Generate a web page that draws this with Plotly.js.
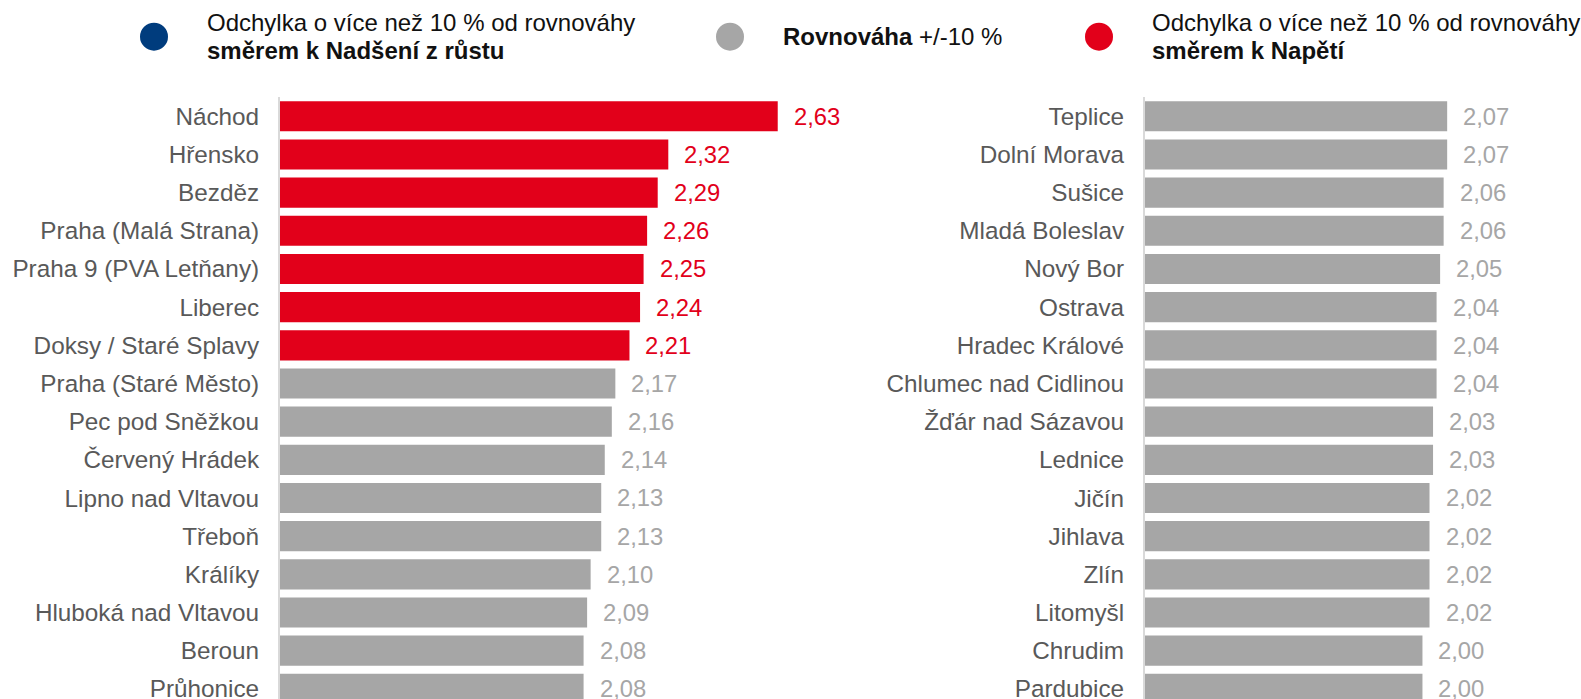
<!DOCTYPE html>
<html>
<head>
<meta charset="utf-8">
<script src="https://cdn.plot.ly/plotly-3.0.1.min.js"></script>
<style>
  html, body { margin: 0; padding: 0; background: #ffffff; }
  #chart { width: 1581px; height: 699px; }
</style>
</head>
<body>
<div id="chart"></div>
<script>
// ---------- DATA ----------
const leftCities = ["Náchod", "Hřensko", "Bezděz", "Praha (Malá Strana)", "Praha 9 (PVA Letňany)", "Liberec",
  "Doksy / Staré Splavy", "Praha (Staré Město)", "Pec pod Sněžkou", "Červený Hrádek", "Lipno nad Vltavou",
  "Třeboň", "Králíky", "Hluboká nad Vltavou", "Beroun", "Průhonice"];
const leftValues = [2.63, 2.32, 2.29, 2.26, 2.25, 2.24, 2.21, 2.17, 2.16, 2.14, 2.13, 2.13, 2.10, 2.09, 2.08, 2.08];
const leftGroup = ["napeti", "napeti", "napeti", "napeti", "napeti", "napeti", "napeti",
  "rovnovaha", "rovnovaha", "rovnovaha", "rovnovaha", "rovnovaha", "rovnovaha", "rovnovaha", "rovnovaha", "rovnovaha"];

const rightCities = ["Teplice", "Dolní Morava", "Sušice", "Mladá Boleslav", "Nový Bor", "Ostrava", "Hradec Králové",
  "Chlumec nad Cidlinou", "Žďár nad Sázavou", "Lednice", "Jičín", "Jihlava", "Zlín", "Litomyšl", "Chrudim", "Pardubice"];
const rightValues = [2.07, 2.07, 2.06, 2.06, 2.05, 2.04, 2.04, 2.04, 2.03, 2.03, 2.02, 2.02, 2.02, 2.02, 2.00, 2.00];
const rightGroup = ["rovnovaha", "rovnovaha", "rovnovaha", "rovnovaha", "rovnovaha", "rovnovaha", "rovnovaha",
  "rovnovaha", "rovnovaha", "rovnovaha", "rovnovaha", "rovnovaha", "rovnovaha", "rovnovaha", "rovnovaha", "rovnovaha"];

const legendGroups = ["nadseni", "rovnovaha", "napeti"];
const legendLine1 = ["Odchylka o více než 10 % od rovnováhy", "<b>Rovnováha</b> +/-10 %", "Odchylka o více než 10 % od rovnováhy"];
const legendLine2 = ["<b>směrem k Nadšení z růstu</b>", "", "<b>směrem k Napětí</b>"];

// ---------- STYLE ----------
const W = 1581, H = 699;
const FONT = "Liberation Sans, Arial, sans-serif";
const barColor = { nadseni: "#003C7D", rovnovaha: "#A6A6A6", napeti: "#E2001A" };
const labelColor = { nadseni: "#003C7D", rovnovaha: "#A6A6A6", napeti: "#E2001A" };
const fmt = v => v.toFixed(2).replace(".", ",");

const pxPerUnit = 353;
const leftPx = [280, 860], rightPx = [1145, 1575];
const leftStart = 1.22, rightStart = 1.214;
const topPx = 97.2, rowPx = 38.17;
const yBottom = -0.5 + (H - topPx) / rowPx;

const traces = [
  { type: "bar", orientation: "h", x: leftValues, y: leftCities, xaxis: "x", yaxis: "y",
    marker: { color: leftGroup.map(g => barColor[g]) }, hoverinfo: "skip", showlegend: false },
  { type: "bar", orientation: "h", x: rightValues, y: rightCities, xaxis: "x2", yaxis: "y2",
    marker: { color: rightGroup.map(g => barColor[g]) }, hoverinfo: "skip", showlegend: false }
];

const annotations = [];
leftValues.forEach((v, i) => annotations.push({
  x: v, y: leftCities[i], xref: "x", yref: "y", xanchor: "left", yanchor: "middle", xshift: 14,
  text: fmt(v), showarrow: false, font: { family: FONT, size: 23.8, color: labelColor[leftGroup[i]] }
}));
rightValues.forEach((v, i) => annotations.push({
  x: v, y: rightCities[i], xref: "x2", yref: "y2", xanchor: "left", yanchor: "middle", xshift: 14,
  text: fmt(v), showarrow: false, font: { family: FONT, size: 23.8, color: labelColor[rightGroup[i]] }
}));

// legend (circles + text)
const legCx = [154, 730, 1099], legCy = 36.7, legR = 14;
const legTextX = [205, 781, 1150];
const legFont = { family: FONT, size: 24, color: "#111111" };
const shapes = [];
legendGroups.forEach((g, i) => {
  shapes.push({ type: "circle", xref: "paper", yref: "paper",
    x0: (legCx[i] - legR) / W, x1: (legCx[i] + legR) / W,
    y0: 1 - (legCy + legR) / H, y1: 1 - (legCy - legR) / H,
    fillcolor: barColor[g], line: { width: 0 } });
  if (legendLine2[i]) {
    annotations.push({ x: legTextX[i] / W, y: 1 - 23 / H, xref: "paper", yref: "paper", xanchor: "left", yanchor: "middle",
      text: legendLine1[i], showarrow: false, font: legFont });
    annotations.push({ x: legTextX[i] / W, y: 1 - 50.5 / H, xref: "paper", yref: "paper", xanchor: "left", yanchor: "middle",
      text: legendLine2[i], showarrow: false, font: legFont });
  } else {
    annotations.push({ x: legTextX[i] / W, y: 1 - 36.5 / H, xref: "paper", yref: "paper", xanchor: "left", yanchor: "middle",
      text: legendLine1[i], showarrow: false, font: legFont });
  }
});

const yAxisBase = {
  type: "category", range: [yBottom, -0.5], domain: [0, 1 - topPx / H],
  showline: true, linecolor: "#D9D9D9", linewidth: 2, ticks: "", showgrid: false, zeroline: false,
  ticklabelstandoff: 14, tickfont: { family: FONT, size: 24.3, color: "#595959" }, fixedrange: true
};

const layout = {
  width: W, height: H, autosize: false,
  margin: { l: 0, r: 0, t: 0, b: 0, pad: 0 },
  paper_bgcolor: "#ffffff", plot_bgcolor: "rgba(0,0,0,0)",
  bargap: 0.21, hovermode: false, showlegend: false,
  xaxis: { domain: [leftPx[0] / W, leftPx[1] / W], range: [leftStart, leftStart + (leftPx[1] - leftPx[0]) / pxPerUnit],
    visible: false, anchor: "y", fixedrange: true },
  xaxis2: { domain: [rightPx[0] / W, rightPx[1] / W], range: [rightStart, rightStart + (rightPx[1] - rightPx[0]) / pxPerUnit],
    visible: false, anchor: "y2", fixedrange: true },
  yaxis: Object.assign({}, yAxisBase, { anchor: "x" }),
  yaxis2: Object.assign({}, yAxisBase, { anchor: "x2" }),
  annotations: annotations,
  shapes: shapes
};

Plotly.newPlot("chart", traces, layout, { staticPlot: true, displayModeBar: false });
</script>
</body>
</html>
